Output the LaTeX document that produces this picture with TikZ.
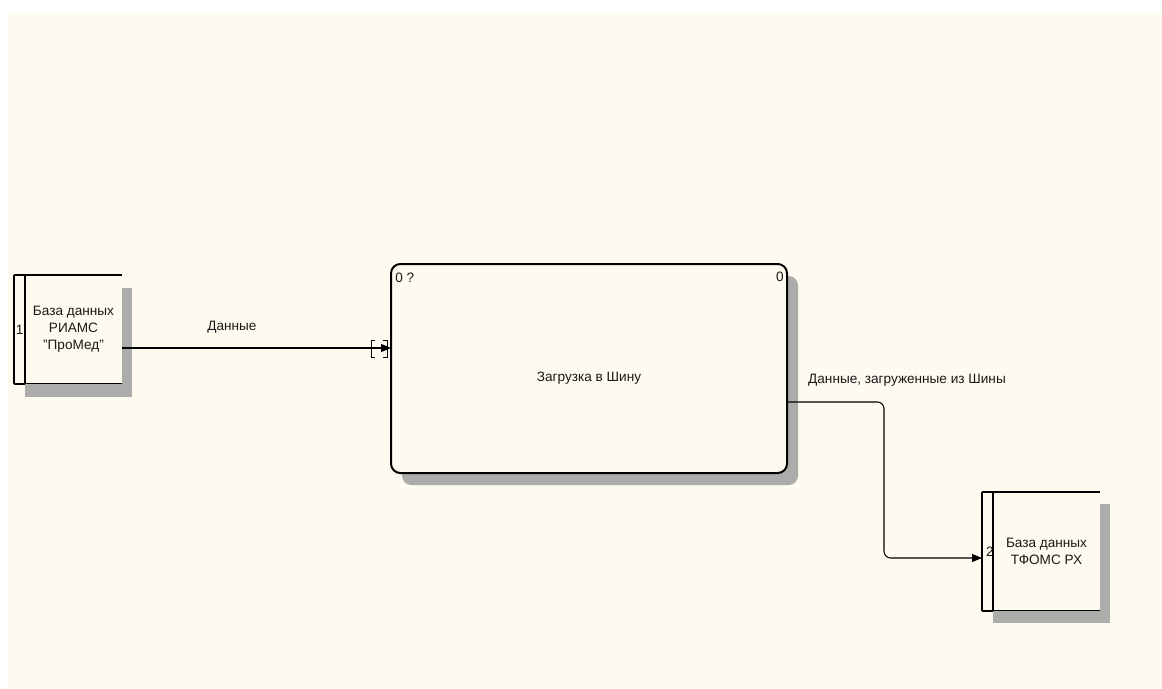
\documentclass[tikz,border=0pt]{standalone}
\usepackage{fontspec}
\setmainfont{Liberation Sans}
\usepackage{tikz}
\usetikzlibrary{arrows.meta, positioning, calc, shadows}
\definecolor{idefbg}{RGB}{254,250,239}
\definecolor{idefshade}{RGB}{172,172,170}
\definecolor{idefink}{RGB}{25,25,25}

\begin{document}
\begin{tikzpicture}[
  x=0.75pt, y=-0.75pt,
  every node/.style={font=\fontsize{10.2}{12.75}\selectfont, text=idefink, inner sep=0pt},
  store/.style={rectangle, fill=idefbg, align=center},
  proc/.style={rectangle, draw=black, fill=idefbg, line width=1.5pt,
               rounded corners=7pt, minimum width=297pt, minimum height=156.75pt,
               drop shadow={shadow xshift=8.25pt, shadow yshift=-9pt,
                            fill=idefshade, opacity=1}},
  wall/.style={line width=1.5pt, color=black},
  shade/.style={fill=idefshade},
  flow/.style={-{Triangle[length=7.5pt, width=6pt]}, line width=0.8pt, color=black},
  tunnel/.style={line width=0.7pt, color=black},
]

% Page
\fill[white] (0,0) rectangle (1162,688);
\fill[idefbg] (8,13) rectangle (1162,688);

% Data stores
\node[store, minimum width=72.75pt, minimum height=81.75pt] (db1) at (73.5,329.5)
  {База данных\\РИАМС\\"ПроМед"};
\node[store, minimum width=80.25pt, minimum height=89.25pt] (db2) at (1046.5,551.5)
  {База данных\\ТФОМС РХ};

\draw[wall] ([shift={(-11,0)}]db1.north west) -- (db1.north east);
\draw[wall] ([shift={(-11,0)}]db1.south west) -- (db1.south east);
\draw[wall] ([shift={(-11,0)}]db1.north west) -- ([shift={(-11,0)}]db1.south west);
\draw[wall] (db1.north west) -- (db1.south west);
\fill[shade] ([shift={(0,13)}]db1.north east) rectangle ([shift={(10,0)}]db1.south east);
\fill[shade] (db1.south west) rectangle ([shift={(10,13)}]db1.south east);
\node[anchor=west] (n1) at ([shift={(-9,0)}]db1.west) {1};

\draw[wall] ([shift={(-11,0)}]db2.north west) -- (db2.north east);
\draw[wall] ([shift={(-11,0)}]db2.south west) -- (db2.south east);
\draw[wall] ([shift={(-11,0)}]db2.north west) -- ([shift={(-11,0)}]db2.south west);
\draw[wall] (db2.north west) -- (db2.south west);
\fill[shade] ([shift={(0,12)}]db2.north east) rectangle ([shift={(10,0)}]db2.south east);
\fill[shade] (db2.south west) rectangle ([shift={(10,12)}]db2.south east);
\node[anchor=west] (n2) at ([shift={(-7,0)}]db2.west) {2};

% Process
\node[proc] (proc) at (589,368.5) {};
\node (ptitle) at (589,378) {Загрузка в Шину};
\node[anchor=base west] (pnum) at (395,282) {0 ?};
\node[anchor=base east] (pcost) at (784,281) {0};

% Flows
\coordinate (in1) at (391,348);
\coordinate (out1) at (787,402);
\coordinate (bend) at (884,480);
\coordinate (in2) at (982,558);

\draw[flow] (in1 -| db1.east) -- (in1);
\node (lbl1) at (232,327) {Данные};
\draw[tunnel] ([shift={(-16,-8)}]in1) -- ([shift={(-20,-8)}]in1)
  -- ([shift={(-20,9)}]in1) -- ([shift={(-16,9)}]in1);
\draw[tunnel] ([shift={(-8,-8)}]in1) -- ([shift={(-4,-8)}]in1)
  -- ([shift={(-4,9)}]in1) -- ([shift={(-8,9)}]in1);

\draw[flow, rounded corners=5pt] (out1) -| (bend) |- (in2);
\node (lbl2) at (907,380) {Данные, загруженные из Шины};

\end{tikzpicture}
\end{document}
